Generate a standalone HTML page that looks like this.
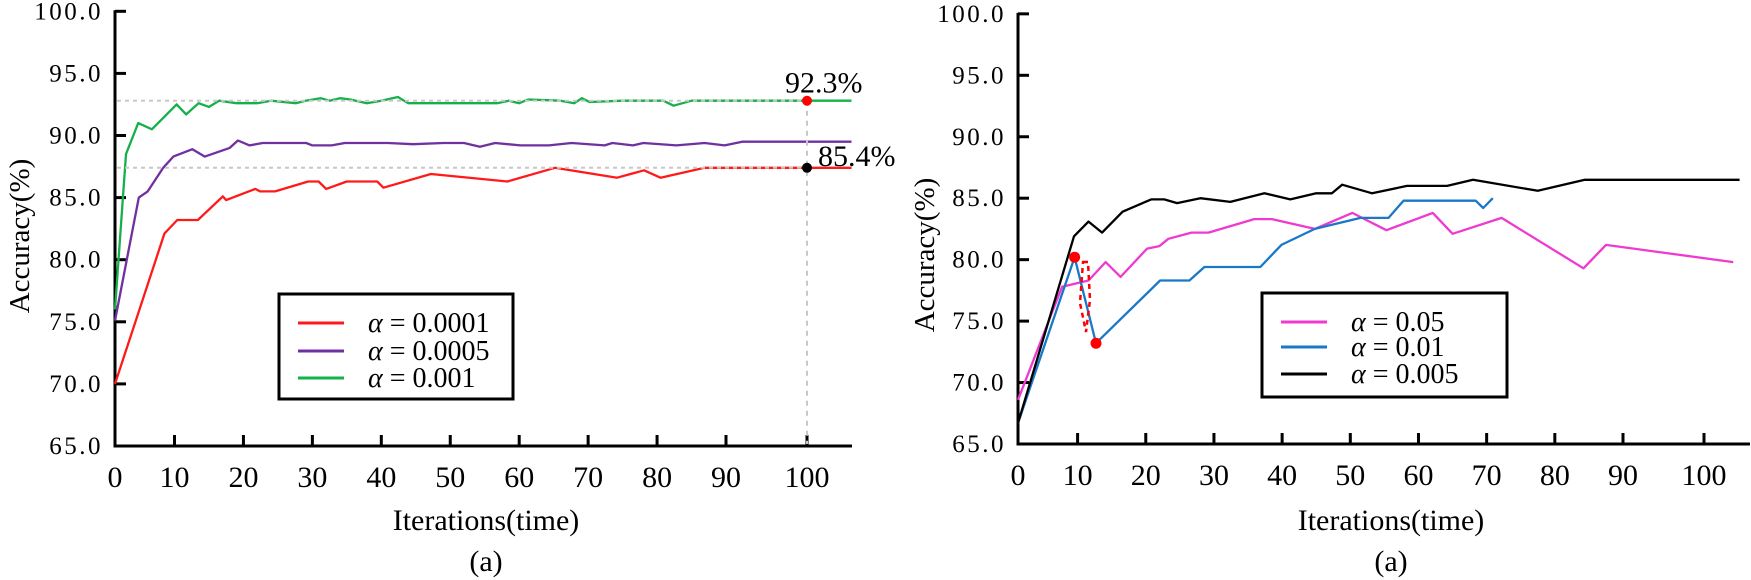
<!DOCTYPE html>
<html><head><meta charset="utf-8">
<style>
html,body{margin:0;padding:0;background:#fff;}
svg{display:block;font-family:"Liberation Serif","DejaVu Serif",serif;}
</style></head>
<body>
<svg id="chart" width="1751" height="580" viewBox="0 0 1751 580" xmlns="http://www.w3.org/2000/svg"></svg>
<script>
// ===== Data: left chart =====
const leftYTicks = [65, 70, 75, 80, 85, 90, 95, 100];
const leftXTicks = [0, 10, 20, 30, 40, 50, 60, 70, 80, 90, 100];
const redX = [0, 8.3, 10.4, 13.4, 17, 17.5, 21.7, 22.4, 24.6, 29.4, 30.9, 32, 35, 39.4, 40.3, 47.2, 58.3, 65.2, 74.2, 78.1, 80.5, 86.9, 105.5];
const redY = [70.0, 82.1, 83.2, 83.2, 85.1, 84.8, 85.7, 85.5, 85.5, 86.3, 86.3, 85.7, 86.3, 86.3, 85.8, 86.9, 86.3, 87.4, 86.6, 87.2, 86.6, 87.4, 87.4];
const purpleX = [0, 4, 5.5, 8.1, 9.8, 12.6, 14.4, 18, 19.2, 20.9, 22.8, 29.1, 30, 32.8, 34.7, 41, 44.6, 49, 52, 54.3, 56.5, 60.2, 64.3, 67.6, 72.4, 73.5, 76.5, 78, 82.8, 86.9, 89.8, 92, 100, 105.5];
const purpleY = [75.1, 85.0, 85.5, 87.4, 88.3, 88.9, 88.3, 89.0, 89.6, 89.2, 89.4, 89.4, 89.2, 89.2, 89.4, 89.4, 89.3, 89.4, 89.4, 89.1, 89.4, 89.2, 89.2, 89.4, 89.2, 89.4, 89.2, 89.4, 89.2, 89.4, 89.2, 89.5, 89.5, 89.5];
const greenX = [0, 1.85, 3.9, 6.2, 10.3, 11.7, 13.5, 15, 16.5, 19, 22, 24, 27.6, 29, 31.2, 32.5, 34, 35.5, 37.9, 40, 42.4, 43.9, 56.8, 58.5, 60, 61.3, 66, 68, 69.1, 70.2, 75, 80.9, 82.4, 85, 100, 105.5];
const greenY = [76.0, 88.5, 91.0, 90.5, 92.5, 91.7, 92.6, 92.3, 92.8, 92.6, 92.6, 92.8, 92.6, 92.8, 93.0, 92.8, 93.0, 92.9, 92.6, 92.8, 93.1, 92.6, 92.6, 92.8, 92.6, 92.9, 92.8, 92.6, 93.0, 92.7, 92.8, 92.8, 92.4, 92.8, 92.8, 92.8];
const refValues = [92.8, 87.4];
const refLabels = ["92.3%", "85.4%"];
const refIter = 100;
// ===== Data: right chart =====
const rightYTicks = [65, 70, 75, 80, 85, 90, 95, 100];
const rightXTicks = [0, 10, 20, 30, 40, 50, 60, 70, 80, 90, 100];
const pinkX = [0, 7.4, 11.6, 14.1, 16.3, 20.2, 22, 23.3, 26.7, 29.2, 35.9, 38.5, 44.8, 50.3, 55.3, 62.1, 65, 72.2, 84.2, 87.5, 103.6];
const pinkY = [68.6, 77.8, 78.3, 79.8, 78.6, 80.9, 81.1, 81.7, 82.2, 82.2, 83.3, 83.3, 82.5, 83.8, 82.4, 83.8, 82.1, 83.4, 79.3, 81.2, 79.8];
const blueX = [0, 9.5, 12.7, 22.1, 26.4, 28.6, 36.8, 39.9, 44.8, 51.5, 55.6, 57.8, 68.4, 69.5, 70.9];
const blueY = [66.7, 80.2, 73.2, 78.3, 78.3, 79.4, 79.4, 81.2, 82.5, 83.4, 83.4, 84.8, 84.8, 84.2, 85.0];
const blackX = [0, 9.4, 11.6, 13.6, 16.6, 20.8, 22.7, 24.6, 28, 32.4, 37.4, 41.2, 45, 47.3, 48.8, 53.2, 58.3, 64.2, 68, 77.5, 84.4, 104.4];
const blackY = [66.7, 81.9, 83.1, 82.2, 83.9, 84.9, 84.9, 84.6, 85.0, 84.7, 85.4, 84.9, 85.4, 85.4, 86.1, 85.4, 86.0, 86.0, 86.5, 85.6, 86.5, 86.5];
const markIdx = [1, 2];

// ===== axis functions =====
function pw(dom, rng){ return v=>{
  let i=0; while(i<dom.length-2 && v>dom[i+1]) i++;
  return rng[i]+(v-dom[i])*(rng[i+1]-rng[i])/(dom[i+1]-dom[i]); }; }
const L = { x: pw([0,10,90,100],[115,174.5,726,807]), y: v=>446-(v-65)*12.42, x0:115, x1:852, yb:446 };
const R = { x: pw([0,10,90,100],[1018,1077.6,1623,1704]), y: v=>444-(v-65)*12.29, x0:1018, x1:1750, yb:444 };

const NS="http://www.w3.org/2000/svg";
const svg=document.getElementById('chart');
function el(tag, attrs, parent){ const e=document.createElementNS(NS,tag); for(const k in attrs) e.setAttribute(k,attrs[k]); (parent||svg).appendChild(e); return e; }
function txt(s, attrs, parent){ const e=el('text',attrs,parent); e.textContent=s; return e; }

function axes(S, yt, xt, prefix, ylabX, ylabY, xlabX){
  const g=el('g',{});
  
  
  const ya=el('line',{x1:S.x0,y1:S.y(100)-1,x2:S.x0,y2:S.yb+1.5,stroke:'#000','stroke-width':3},g);
  
  
  const xa=el('line',{x1:S.x0-1.5,y1:S.yb,x2:S.x1,y2:S.yb,stroke:'#000','stroke-width':3},g);
  
  
  yt.forEach(v=>{
    if(v>65) el('line',{x1:S.x0,y1:S.y(v),x2:S.x0+11,y2:S.y(v),stroke:'#000','stroke-width':3},g);
    const t=txt(v.toFixed(1),{x:S.x0-12,y:S.y(v)+8,'text-anchor':'end','font-size':25,'letter-spacing':'2.5'},g);
    
    
  });
  xt.forEach(v=>{
    if(v>0) el('line',{x1:S.x(v),y1:S.yb,x2:S.x(v),y2:S.yb-11,stroke:'#000','stroke-width':3},g);
    const t=txt(String(v),{x:S.x(v),y:S.yb+41,'text-anchor':'middle','font-size':30},g);
    
    
  });
  const yl=txt('Accuracy(%)',{x:ylabX,y:ylabY,'text-anchor':'middle','font-size':29,transform:`rotate(-90 ${ylabX} ${ylabY})`,'dominant-baseline':'central'},g);
  
  
  const xl=txt('Iterations(time)',{x:xlabX,y:530,'text-anchor':'middle','font-size':30},g);
  
  
  const cap=txt('(a)',{x:xlabX,y:571,'text-anchor':'middle','font-size':30},g);
  
  
}
function series(S, xs, ys, color, name){
  const d=xs.map((v,i)=>(i?'L':'M')+S.x(v).toFixed(1)+' '+S.y(ys[i]).toFixed(1)).join(' ');
  const p=el('path',{d:d,fill:'none',stroke:color,'stroke-width':2.3,'stroke-linejoin':'round'});
  
  
}
function legend(x,y,w,h,items,prefix){
  const g=el('g',{});
  
  
  el('rect',{x:x,y:y,width:w,height:h,fill:'#fff',stroke:'#000','stroke-width':3},g);
  items.forEach((it,i)=>{
    const cy=it[2];
    el('line',{x1:x+19,y1:cy,x2:x+65,y2:cy,stroke:it[0],'stroke-width':3},g);
    const t=el('text',{x:x+89,y:cy+9,'font-size':28},g);
    
    
    const a=document.createElementNS(NS,'tspan'); a.setAttribute('font-style','italic'); a.textContent='α'; t.appendChild(a);
    t.appendChild(document.createTextNode(' = '+it[1]));
  });
}

// ----- left chart -----
axes(L, leftYTicks, leftXTicks, 'left', 20, 236, 486);
series(L, redX, redY, '#ff1a1a', 'series-alpha-0.0001');
series(L, purpleX, purpleY, '#7030a0', 'series-alpha-0.0005');
series(L, greenX, greenY, '#16b04a', 'series-alpha-0.001');
refValues.forEach((v,i)=>{
  const r=el('line',{x1:L.x0+2,y1:L.y(v),x2:L.x(refIter),y2:L.y(v),stroke:'#c8c8c8','stroke-width':2,'stroke-dasharray':'4 4'});
  
  
});
const vline=el('line',{x1:L.x(refIter),y1:L.y(refValues[0]),x2:L.x(refIter),y2:L.yb-2,stroke:'#c8c8c8','stroke-width':2,'stroke-dasharray':'5 5'});


['#ff0000','#000000'].forEach((c,i)=>{
  const m=el('circle',{cx:L.x(refIter),cy:L.y(refValues[i]),r:5,fill:c});
  
  
});
const a1=txt(refLabels[0],{x:L.x(refIter)-22,y:L.y(refValues[0])-8,'font-size':30});


const a2=txt(refLabels[1],{x:L.x(refIter)+11,y:L.y(refValues[1])-2,'font-size':30});


legend(279,294,234,105,[['#ff1a1a','0.0001',323],['#7030a0','0.0005',351],['#16b04a','0.001',378]],'left');

// ----- right chart -----
axes(R, rightYTicks, rightXTicks, 'right', 925, 255, 1391);
series(R, pinkX, pinkY, '#ee3ad0', 'series-alpha-0.05');
series(R, blueX, blueY, '#1a78c8', 'series-alpha-0.01');
series(R, blackX, blackY, '#000000', 'series-alpha-0.005');
const loop=el('path',{d:'M1083 262 L1088 262 L1090 300 L1086 332 L1080 303 Z',fill:'none',stroke:'#ff0000','stroke-width':2.5,'stroke-dasharray':'5 4'});


markIdx.forEach(i=>{
  const m=el('circle',{cx:R.x(blueX[i]),cy:R.y(blueY[i]),r:5.5,fill:'#ff0000'});
  
  
});
legend(1262,293,245,104,[['#ee3ad0','0.05',322],['#1a78c8','0.01',347],['#000000','0.005',374]],'right');
</script>
</body></html>
